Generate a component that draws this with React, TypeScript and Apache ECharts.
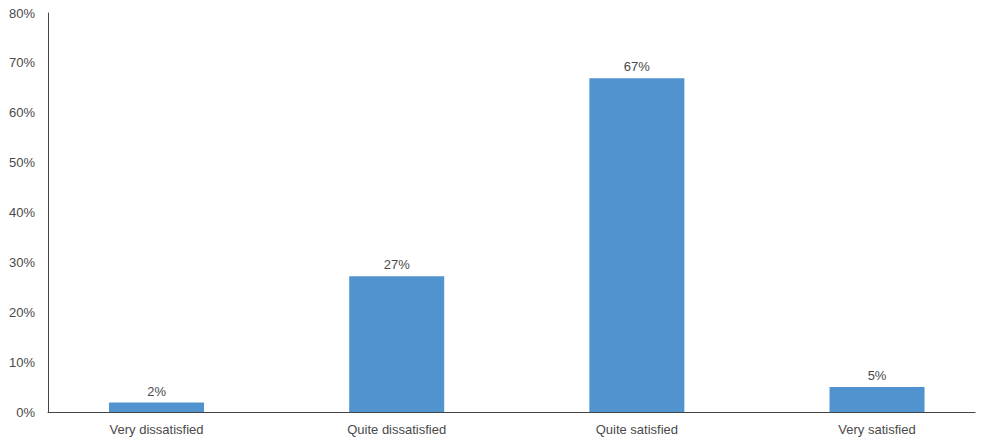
import React, { useEffect, useRef } from "react";
import * as echarts from "echarts";

const categories = ["Very dissatisfied", "Quite dissatisfied", "Quite satisfied", "Very satisfied"];
const values = [1.9, 27.2, 66.9, 5.0];
const valueLabels = ["2%", "27%", "67%", "5%"];
const yTicks = [0, 10, 20, 30, 40, 50, 60, 70, 80];

export default function App() {
  const ref = useRef<HTMLDivElement>(null);
  useEffect(() => {
    if (!ref.current) return;
    const chart = echarts.init(ref.current, undefined, { renderer: "svg" });
    const positions = categories.map((_, i) => i);
    chart.setOption({
      animation: false,
      grid: { left: 48, right: 14, top: 13, bottom: 27, containLabel: false },
      xAxis: {
        type: "value",
        min: -0.452,
        max: 3.408,
        axisLine: { show: true, onZero: false, lineStyle: { color: "#444", width: 1 } },
        axisTick: { show: false },
        splitLine: { show: false },
        axisLabel: {
          customValues: positions,
          formatter: (v: number) => categories[Math.round(v)] ?? "",
          color: "#4a4a4a",
          fontSize: 13,
          fontFamily: "Liberation Sans, Arial, sans-serif",
          margin: 11,
        },
      },
      yAxis: {
        type: "value",
        min: 0,
        max: 80,
        interval: 10,
        axisLine: { show: true, onZero: false, lineStyle: { color: "#444", width: 1 } },
        axisTick: { show: false },
        splitLine: { show: false },
        axisLabel: {
          customValues: yTicks,
          formatter: (v: number) => `${v}%`,
          color: "#4a4a4a",
          fontSize: 13,
          fontFamily: "Liberation Sans, Arial, sans-serif",
          margin: 13,
        },
      },
      series: [
        {
          type: "bar",
          barWidth: 95,
          data: values.map((v, i) => [positions[i], v]),
          itemStyle: { color: "#5093CF" },
          label: {
            show: true,
            position: "top",
            distance: 5,
            formatter: (p: any) => valueLabels[p.dataIndex],
            color: "#4a4a4a",
            fontSize: 13,
            fontFamily: "Liberation Sans, Arial, sans-serif",
          },
        },
      ],
    });
    return () => chart.dispose();
  }, []);
  return <div ref={ref} style={{ width: 989, height: 439, position: "absolute", left: 0, top: 0 }} />;
}
